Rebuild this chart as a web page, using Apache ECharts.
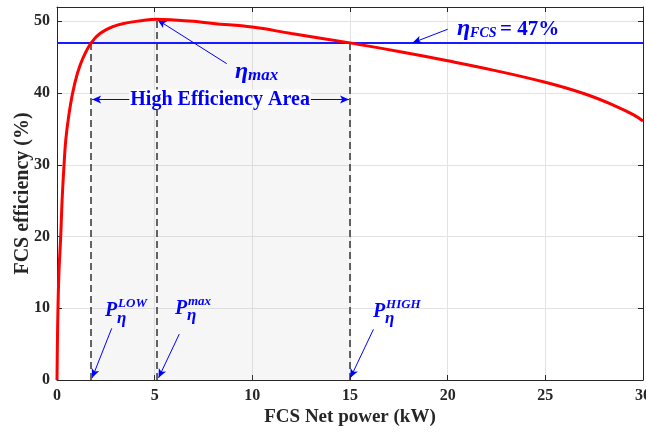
<!DOCTYPE html>
<html lang="en">
<head>
    <meta charset="UTF-8">
    <title>FCS efficiency</title>
    <script src="https://cdn.jsdelivr.net/npm/echarts@6/dist/echarts.min.js"></script>
    <style>html,body{margin:0;padding:0;background:#fff;}</style>
</head>
<body>
<div id="main" style="width:646px;height:432px;"></div>
<script type="text/javascript">
    // curve
    var powerKW = [0, 0.02, 0.05, 0.1, 0.19, 0.26, 0.36, 0.45, 0.6, 0.8, 1.05, 1.35, 1.75, 2.2, 2.9, 3.5, 4.2, 5.1, 6, 7, 8, 10, 12, 15, 17.5, 20, 22.5, 25, 27, 28.5, 29.5, 30];
    var efficiency = [0, 5, 10, 15, 20, 25, 30, 33.5, 36.8, 40, 42.8, 45, 47, 48.3, 49.3, 49.75, 50.05, 50.3, 50.2, 50.0, 49.7, 49.2, 48.3, 47, 45.8, 44.5, 43.1, 41.5, 39.9, 38.3, 37, 36.1];
    var xTicks = [0, 5, 10, 15, 20, 25, 30];
    var yTicks = [0, 10, 20, 30, 40, 50];

    var etaRef = 47;     // eta_FCS
    var pLow = 1.75, pMax = 5.1, pHigh = 15;
    var etaMax = 50.3;

    var myChart = echarts.init(document.getElementById('main'));

    var curve = [], shade = [];
    for (var i = 0; i < powerKW.length; i++) {
        curve.push([powerKW[i], efficiency[i]]);
        if (powerKW[i] >= pLow && powerKW[i] <= pHigh) shade.push([powerKW[i], efficiency[i]]);
    }

    var font = 'Liberation Serif';
    var blue = '#0000ff';
    var dark = '#262626';

    function frameAxis(pos) {
        return {
            type: 'value', position: pos, min: 0,
            axisLine: {show: true, onZero: false, lineStyle: {color: dark, width: 1}},
            axisTick: {show: true, inside: true, length: 5, lineStyle: {color: dark}},
            axisLabel: {show: false},
            splitLine: {show: false}
        };
    }

    var xTop = frameAxis('top');
    xTop.max = xTicks[xTicks.length - 1]; xTop.interval = 5;
    var yRight = frameAxis('right');
    yRight.max = 52; yRight.interval = 10;

    function arrow(a, b) {
        return [{coord: a, symbol: 'none'}, {coord: b, symbol: 'arrow'}];
    }

    var option = {
        backgroundColor: '#fff',
        animation: false,
        textStyle: {fontFamily: font},
        grid: {left: 57, right: 3, top: 7, bottom: 52, containLabel: false, outerBoundsMode: 'none'},
        xAxis: [{
            type: 'value', min: 0, max: xTicks[xTicks.length - 1], interval: 5,
            name: 'FCS Net power (kW)', nameLocation: 'middle', nameGap: 28, nameMoveOverlap: false,
            nameTextStyle: {fontSize: 19, fontWeight: 'bold', color: dark, fontFamily: font},
            axisLine: {onZero: false, lineStyle: {color: dark, width: 1}},
            axisTick: {inside: true, length: 5, lineStyle: {color: dark}},
            axisLabel: {fontSize: 16, fontWeight: 'bold', color: dark, margin: 8, fontFamily: font},
            splitLine: {show: true, lineStyle: {color: '#e3e3e3', width: 1}}
        }, xTop],
        yAxis: [{
            type: 'value', min: 0, max: 52, interval: 10,
            name: 'FCS efficiency (%)', nameLocation: 'middle', nameGap: 24, nameMoveOverlap: false,
            nameTextStyle: {fontSize: 20, fontWeight: 'bold', color: dark, fontFamily: font},
            axisLine: {show: true, onZero: false, lineStyle: {color: dark, width: 1}},
            axisTick: {show: true, inside: true, length: 5, lineStyle: {color: dark}},
            axisLabel: {
                fontSize: 16, fontWeight: 'bold', color: dark, margin: 7, fontFamily: font,
                formatter: function (v) { return yTicks.indexOf(v) >= 0 ? v : ''; }
            },
            splitLine: {show: true, lineStyle: {color: '#e3e3e3', width: 1}}
        }, yRight],
        series: [{
            // high efficiency area
            type: 'line', data: shade, smooth: 0.4,
            showSymbol: false, silent: true, z: 1,
            lineStyle: {width: 0},
            areaStyle: {color: 'rgba(170,170,170,0.15)', origin: 'start'},
            markLine: {
                silent: true, symbol: 'none', animation: false,
                label: {show: false},
                lineStyle: {color: '#333', type: [7, 4], width: 1.5},
                data: [
                    [{coord: [pLow, 0]}, {coord: [pLow, etaRef]}],
                    [{coord: [pMax, 0]}, {coord: [pMax, etaMax]}],
                    [{coord: [pHigh, 0]}, {coord: [pHigh, etaRef]}]
                ]
            }
        }, {
            // reference efficiency line + annotation arrows
            type: 'line', data: [], z: 3,
            markLine: {
                silent: true, animation: false, symbol: 'none',
                label: {show: false},
                lineStyle: {color: blue, type: 'solid', width: 1},
                symbolSize: [6, 9],
                data: [
                    [{coord: [0, etaRef], lineStyle: {width: 2, color: '#1a1aff'}}, {coord: [30, etaRef]}],
                    arrow([20.0, 48.9], [18.2, etaRef]),
                    arrow([8.69, 44.1], [pMax + 0.05, etaMax - 0.1]),
                    arrow([2.8, 7.2], [pLow + 0.05, 0.3]),
                    arrow([6.26, 6.4], [pMax + 0.1, 0.3]),
                    arrow([16.2, 7.06], [pHigh + 0.02, 0.3]),
                    [{coord: [pLow + 0.05, 39.1], symbol: 'arrow'}, {coord: [pHigh - 0.05, 39.1], symbol: 'arrow'}]
                ]
            }
        }, {
            name: 'FCS efficiency',
            type: 'line', data: curve, smooth: 0.4,
            showSymbol: false, z: 5,
            lineStyle: {color: '#ff0000', width: 3}
        }]
    };

    myChart.setOption(option);

    // math-style text annotations, placed in data units
    function px(x, y) { return myChart.convertToPixel({seriesIndex: 2}, [x, y]); }
    function t(x, y, text, size, italic) {
        return {
            type: 'text', x: x, y: y, z: 100,
            style: {
                text: text, fill: blue, fontFamily: font, fontSize: size, fontWeight: 'bold',
                fontStyle: italic ? 'italic' : 'normal', align: 'left', verticalAlign: 'middle'
            }
        };
    }
    function group(pos, children) {
        var p = px(pos[0], pos[1]);
        return {type: 'group', x: p[0], y: p[1], z: 100, children: children};
    }
    function pLabel(pos, sup) {
        return group(pos, [
            t(0, 0, 'P', 20, true),
            t(12, 7, 'η', 17, true),
            t(13, -7, sup, 13, true)
        ]);
    }

    var hc = px(8.35, 39.1);
    myChart.setOption({
        graphic: [
            group([20.48, 48.9], [
                t(0, 0, 'η', 24, true),
                t(13, 4, 'FCS', 14, true),
                t(43, 0, '= 47%', 21, false)
            ]),
            group([9.11, 43.0], [
                t(0, 0, 'η', 24, true),
                t(13, 4, 'max', 17, true)
            ]),
            {
                type: 'text', x: hc[0], y: hc[1], z: 100,
                style: {
                    text: 'High Efficiency Area', fill: blue, fontFamily: font, fontSize: 20,
                    fontWeight: 'bold', align: 'center', verticalAlign: 'middle',
                    backgroundColor: '#fff', padding: [0, 1]
                }
            },
            pLabel([2.46, 9.6], 'LOW'),
            pLabel([6.04, 9.9], 'max'),
            pLabel([16.18, 9.5], 'HIGH')
        ]
    });
</script>
</body>
</html>
